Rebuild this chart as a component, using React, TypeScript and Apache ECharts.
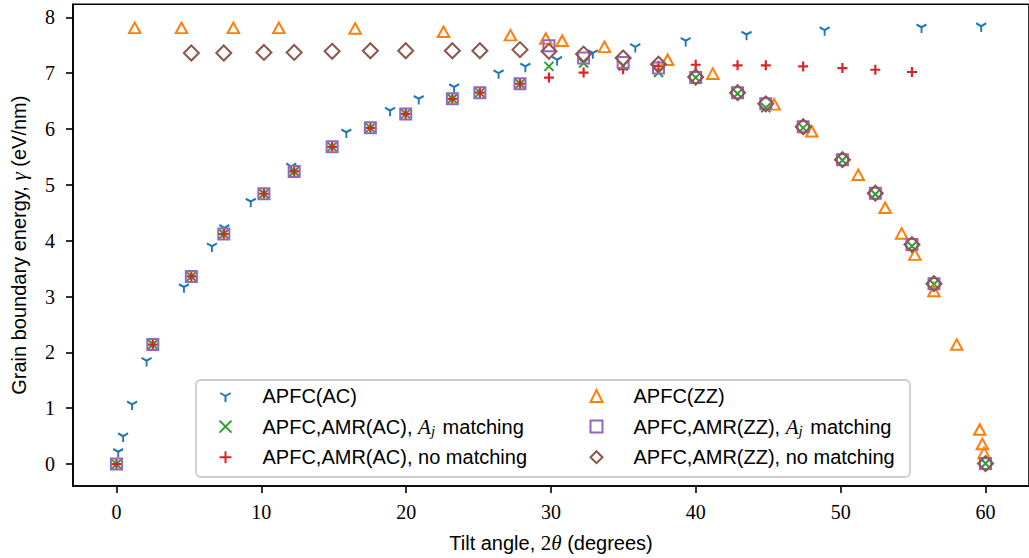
import React, { useEffect, useRef } from "react";
import * as echarts from "echarts";

// ---- data ----
const xTicks = [0, 10, 20, 30, 40, 50, 60];
const yTicks = [0, 1, 2, 3, 4, 5, 6, 7, 8];

const acX = [0.12, 0.46, 1.08, 2.08, 4.66, 6.59, 7.45, 9.27, 12.07, 15.87, 18.89, 20.87, 23.31, 26.38, 28.23, 30.42, 32.89, 35.82, 39.3, 43.5, 48.89, 55.58, 59.7];
const acY = [0.22, 0.5, 1.07, 1.85, 3.17, 3.9, 4.23, 4.7, 5.33, 5.94, 6.33, 6.54, 6.75, 7.0, 7.12, 7.24, 7.36, 7.47, 7.58, 7.69, 7.77, 7.82, 7.84];

const amrX = [0, 2.51, 5.17, 7.41, 10.18, 12.27, 14.89, 17.53, 19.97, 23.19, 25.09, 27.86, 29.86, 32.25, 34.98, 37.42, 39.99, 42.88, 44.83, 47.41, 50.12, 52.39, 54.92, 56.44, 60.0];
const acAjY = [0, 2.14, 3.36, 4.12, 4.84, 5.24, 5.68, 6.02, 6.27, 6.54, 6.65, 6.81, 7.12, 7.18, 7.13, 7.01, 6.92, 6.63, 6.38, 6.02, 5.44, 4.83, 3.9, 3.22, 0.01];

const acNoX = [0, 2.51, 5.17, 7.41, 10.18, 12.27, 14.89, 17.53, 19.97, 23.19, 25.09, 27.86, 29.86, 32.25, 34.98, 37.42, 39.99, 42.88, 44.83, 47.41, 50.12, 52.39, 54.92];
const acNoY = [0, 2.14, 3.36, 4.12, 4.84, 5.24, 5.68, 6.02, 6.27, 6.54, 6.65, 6.81, 6.92, 7.01, 7.07, 7.13, 7.15, 7.14, 7.14, 7.12, 7.09, 7.06, 7.02];

const zzX = [1.26, 4.49, 8.07, 11.21, 16.48, 22.58, 27.2, 29.64, 30.77, 33.69, 38.05, 41.17, 45.41, 48.0, 51.21, 53.07, 54.21, 55.12, 56.44, 58.01, 59.6, 59.78, 59.9];
const zzY = [7.81, 7.81, 7.81, 7.81, 7.8, 7.74, 7.68, 7.62, 7.58, 7.47, 7.24, 6.99, 6.44, 5.96, 5.18, 4.59, 4.13, 3.75, 3.1, 2.14, 0.62, 0.36, 0.2];

const zzAjY = [0, 2.14, 3.36, 4.12, 4.84, 5.24, 5.68, 6.02, 6.27, 6.54, 6.65, 6.81, 7.49, 7.27, 7.19, 7.09, 6.92, 6.65, 6.45, 6.04, 5.45, 4.85, 3.93, 3.23, 0.01];

const zzNoX = [5.17, 7.41, 10.18, 12.27, 14.89, 17.53, 19.97, 23.19, 25.09, 27.86, 29.86, 32.25, 34.98, 37.42, 39.99, 42.88, 44.83, 47.41, 50.12, 52.39, 54.92, 56.44, 60.0];
const zzNoY = [7.36, 7.36, 7.37, 7.37, 7.39, 7.4, 7.4, 7.4, 7.4, 7.42, 7.39, 7.34, 7.27, 7.16, 6.93, 6.65, 6.45, 6.04, 5.45, 4.85, 3.93, 3.23, 0.01];

const names = [
  "APFC(AC)",
  "APFC,AMR(AC), Aj matching",
  "APFC,AMR(AC), no matching",
  "APFC(ZZ)",
  "APFC,AMR(ZZ), Aj matching",
  "APFC,AMR(ZZ), no matching",
];

const colors = ["#1f77b4", "#2ca02c", "#d62728", "#ff7f0e", "#9467bd", "#8c564b"];

const zip = (xs: number[], ys: number[]) => xs.map((x, i) => [x, ys[i]]);

const TRI_DOWN = "path://M0,-100M0,0L0,100M0,0L-86.6,-50M0,0L86.6,-50";
const XMARK = "path://M-100,-100L100,100M-100,100L100,-100";
const PLUS = "path://M-100,0L100,0M0,-100L0,100";

const SANS = "Liberation Sans";
const SERIF = "Liberation Serif";

export default function App() {
  const ref = useRef<HTMLDivElement>(null);
  useEffect(() => {
    if (!ref.current) return;
    const chart = echarts.init(ref.current, undefined, { renderer: "svg" });

    const mk = (
      idx: number,
      data: number[][],
      symbol: string,
      size: number | number[],
      bw: number
    ) => ({
      type: "scatter",
      name: names[idx],
      data,
      symbol,
      symbolSize: size,
      silent: true,
      itemStyle: { color: "none", borderColor: colors[idx], borderWidth: bw, opacity: 1 },
    });

    const richText = {
      it: { fontFamily: SERIF, fontStyle: "italic", fontSize: 21, color: "#000", lineHeight: 22 },
      sub: { fontFamily: SERIF, fontStyle: "italic", fontSize: 15, color: "#000", padding: [9, 2, 0, 0], lineHeight: 14 },
    };
    const fmt = (name: string) => name.replace("Aj", "{it|A}{sub|j}");

    const legendBase = {
      orient: "vertical",
      top: 380,
      itemWidth: 12,
      itemHeight: 12,
      itemGap: 7.6,
      formatter: fmt,
      selectedMode: false,
      textStyle: {
        fontFamily: SANS,
        fontSize: 20,
        color: "#000",
        lineHeight: 22,
        padding: [0, 0, 0, 26],
        rich: richText,
      },
    };

    chart.setOption({
      animation: false,
      grid: {
        left: 68.5,
        top: 4.3,
        width: 967,
        height: 482.5,
        show: true,
        borderColor: "#000",
        borderWidth: 1.6,
        backgroundColor: "transparent",
      },
      xAxis: {
        type: "value",
        min: -3,
        max: 63,
        name: "Tilt angle, {n|2}{m|θ} (degrees)",
        nameLocation: "middle",
        nameGap: 46,
        nameTextStyle: {
          fontFamily: SANS,
          fontSize: 20,
          color: "#000",
          rich: {
            n: { fontFamily: SERIF, fontSize: 21, color: "#000" },
            m: { fontFamily: SERIF, fontStyle: "italic", fontSize: 21, color: "#000" },
          },
        },
        splitLine: { show: false },
        axisLine: { show: true, onZero: false, lineStyle: { color: "#000", width: 1.6 } },
        axisTick: { show: true, customValues: xTicks, length: 7, lineStyle: { color: "#000", width: 1.6 } },
        axisLabel: { customValues: xTicks, margin: 16, fontFamily: SERIF, fontSize: 20, color: "#000" },
      },
      yAxis: {
        type: "value",
        min: -0.392,
        max: 8.232,
        name: "Grain boundary energy, {g|γ} (eV/nm)",
        nameLocation: "middle",
        nameGap: 44,
        nameTextStyle: {
          fontFamily: SANS,
          fontSize: 20,
          color: "#000",
          rich: { g: { fontFamily: SERIF, fontStyle: "italic", fontSize: 21, color: "#000" } },
        },
        splitLine: { show: false },
        axisLine: { show: true, onZero: false, lineStyle: { color: "#000", width: 1.6 } },
        axisTick: { show: true, customValues: yTicks, length: 7, lineStyle: { color: "#000", width: 1.6 } },
        axisLabel: { customValues: yTicks, margin: 18, fontFamily: SERIF, fontSize: 20, color: "#000" },
      },
      legend: [
        { ...legendBase, left: 212, data: [names[0], names[1], names[2]] },
        { ...legendBase, left: 583, data: [names[3], names[4], names[5]] },
      ],
      graphic: [
        {
          type: "rect",
          z: 2,
          shape: { x: 196, y: 380, width: 714, height: 97, r: 5 },
          style: { fill: "rgba(255,255,255,0.8)", stroke: "#cccccc", lineWidth: 1.8 },
        },
      ],
      series: [
        mk(0, zip(acX, acY), TRI_DOWN, [10, 11.5], 2),
        mk(1, zip(amrX, acAjY), XMARK, [9, 9], 2),
        mk(2, zip(acNoX, acNoY), PLUS, [10, 10], 2.2),
        mk(3, zip(zzX, zzY), "triangle", [11.5, 10.5], 2),
        mk(4, zip(amrX, zzAjY), "rect", [11, 11], 2),
        mk(5, zip(zzNoX, zzNoY), "diamond", [15, 15], 2),
      ],
    });
    return () => chart.dispose();
  }, []);
  return (
    <div
      ref={ref}
      style={{ position: "absolute", left: 0, top: 0, width: 1029, height: 558, background: "#fff" }}
    />
  );
}
